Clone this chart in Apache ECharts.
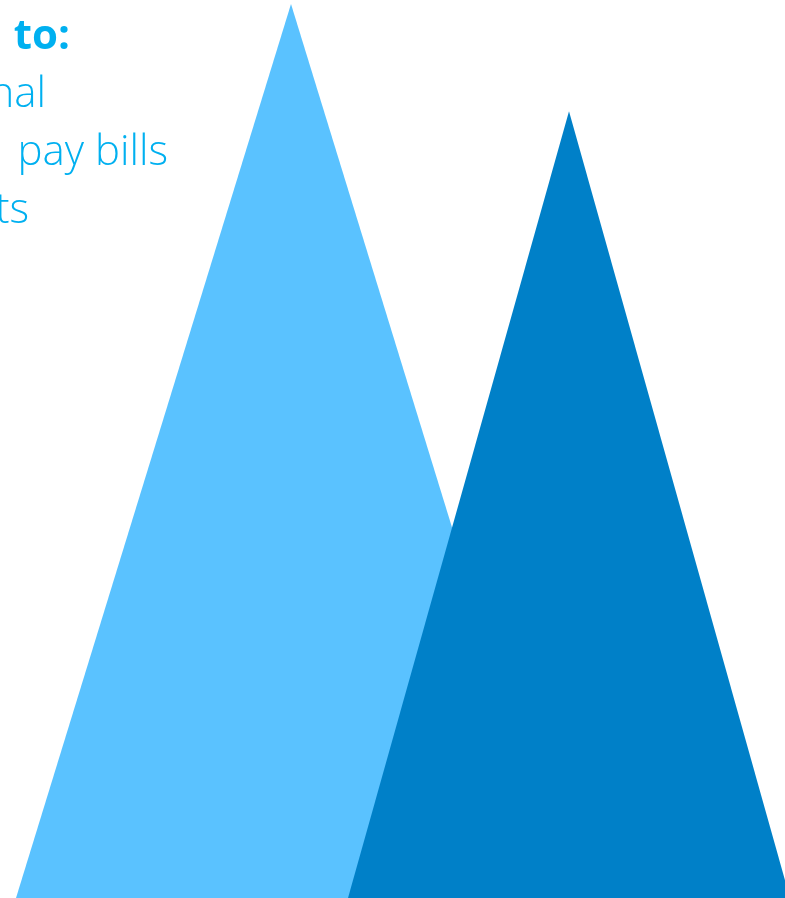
<!DOCTYPE html>
<html>
<head>
<meta charset="utf-8">
<script src="https://cdn.jsdelivr.net/npm/echarts@6/dist/echarts.min.js"></script>
<style>
  html, body { margin: 0; padding: 0; background: #fff; }
  #chart { width: 785px; height: 898px; }
</style>
</head>
<body>
<div id="chart"></div>
<script>
// data
const categories = ['Left', 'Right']
const heights = [100, 88]

// look of each triangle
const triangleWidths = [550, 442]
const triangleColors = ['#5AC2FF', '#0080C8']

const chart = echarts.init(document.getElementById('chart'))

const textColor = '#00B0F0'
const textFont = '"Open Sans", sans-serif'

// fragments of the slide text, right edge and baseline-ish y
function textItem(text, x, y, weight) {
  return {
    type: 'text',
    x: x,
    y: y,
    z: 10,
    style: {
      text: text,
      fill: textColor,
      font: weight + ' 42px ' + textFont,
      align: 'right',
      verticalAlign: 'bottom'
    }
  }
}

const option = {
  animation: false,
  grid: {
    left: 152,
    right: 77,
    top: 4,
    bottom: 0
  },
  xAxis: {
    type: 'category',
    data: categories,
    show: false
  },
  yAxis: {
    type: 'value',
    min: 0,
    max: 100,
    show: false
  },
  series: [
    {
      type: 'pictorialBar',
      symbol: 'triangle',
      z: 2,
      data: heights.map((v, i) => ({
        value: v,
        symbolSize: [triangleWidths[i], '100%'],
        itemStyle: { color: triangleColors[i] }
      }))
    }
  ],
  graphic: [
    textItem('to:', 70, 58, 'bold'),
    textItem('nal', 46, 116, '300'),
    textItem('pay bills', 168, 174, '300'),
    textItem('ts', 29, 232, '300')
  ]
}

chart.setOption(option)
</script>
</body>
</html>
